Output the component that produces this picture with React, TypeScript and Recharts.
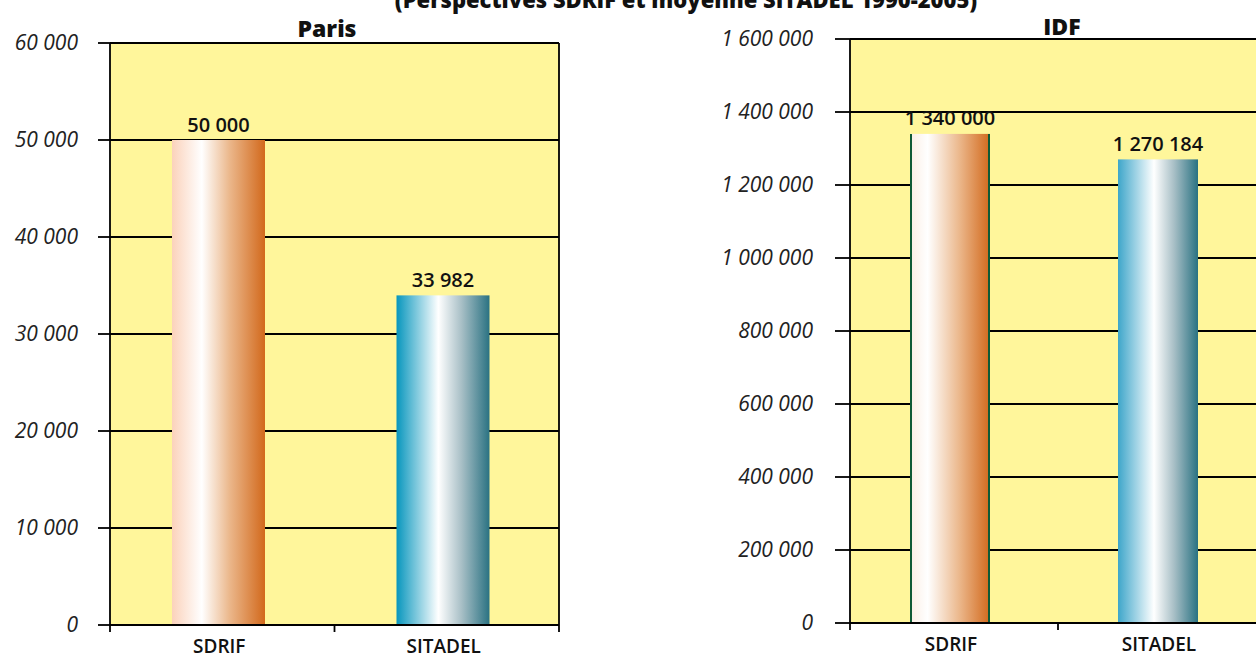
import React from 'react'
import {
  BarChart,
  Bar,
  XAxis,
  YAxis,
  CartesianGrid,
  Cell,
  LabelList,
} from 'recharts'

const categories = ['SDRIF', 'SITADEL']
const parisValues = [50000, 33982]
const idfValues = [1340000, 1270184]
const parisTicks = [0, 10000, 20000, 30000, 40000, 50000, 60000]
const idfTicks = [0, 200000, 400000, 600000, 800000, 1000000, 1200000, 1400000, 1600000]
const mainTitle = '(Perspectives SDRIF et moyenne SITADEL 1990-2005)'
const parisTitle = 'Paris'
const idfTitle = 'IDF'

const parisData = categories.map((c, i) => ({ category: c, value: parisValues[i] }))
const idfData = categories.map((c, i) => ({ category: c, value: idfValues[i] }))

const FONT = '"Open Sans", "Noto Sans", sans-serif'
const PLOT_BG = '#fff69b'

const fmt = (v: number) => String(v).replace(/\B(?=(\d{3})+(?!\d))/g, ' ')

// excel-style ticks between categories
function XTick(props: any) {
  const { x, y, payload, index, visibleTicksCount, width } = props
  const half = payload.offset ?? width / visibleTicksCount / 2
  const axisY = y - 7
  return (
    <g>
      <line x1={x - half} x2={x - half} y1={axisY} y2={axisY + 7} stroke="#000" strokeWidth={1.8} />
      {index === visibleTicksCount - 1 && (
        <line x1={x + half} x2={x + half} y1={axisY} y2={axisY + 7} stroke="#000" strokeWidth={1.8} />
      )}
      <text
        x={x - 3}
        y={axisY + 21}
        textAnchor="middle"
        dominantBaseline="central"
        fontFamily={FONT}
        fontSize={19}
        fontWeight={600}
        fill="#111"
      >
        {payload.value}
      </text>
    </g>
  )
}

// bars sit a little left of the category centre in the original
function ShiftedBar(props: any) {
  const { x, y, width, height, fill, payload, edged } = props
  const bx = x - 4
  const hasEdge = edged && payload && payload.category === 'SDRIF'
  return (
    <g>
      <rect x={bx} y={y} width={width} height={height} fill={fill} />
      {hasEdge && (
        <>
          <line x1={bx + 1} x2={bx + 1} y1={y} y2={y + height} stroke="#0f5a36" strokeWidth={2} />
          <line x1={bx + width - 1} x2={bx + width - 1} y1={y} y2={y + height} stroke="#0f5a36" strokeWidth={2} />
        </>
      )}
    </g>
  )
}

const rightBorder = ({ offset }: any) => [offset.left + offset.width]

function Gradients({ prefix }: { prefix: string }) {
  return (
    <defs>
      <linearGradient id={prefix + 'Sdrif'} x1="0" y1="0" x2="1" y2="0">
        <stop offset="0%" stopColor={prefix === 'p' ? '#fbd2bb' : '#fbeee4'} />
        <stop offset={prefix === 'p' ? '32%' : '22%'} stopColor="#ffffff" />
        <stop offset="62%" stopColor="#ebb78b" />
        <stop offset="100%" stopColor="#d2691c" />
      </linearGradient>
      <linearGradient id={prefix + 'Sitadel'} x1="0" y1="0" x2="1" y2="0">
        <stop offset="0%" stopColor={prefix === 'p' ? '#0796bd' : '#3ea6ca'} />
        <stop offset="45%" stopColor="#ffffff" />
        <stop offset="70%" stopColor="#a8bfc6" />
        <stop offset="100%" stopColor="#2a7282" />
      </linearGradient>
    </defs>
  )
}

const yTick = { fontSize: 21, fontStyle: 'italic', fill: '#222', fontFamily: FONT }
const valueLabel = { fontFamily: FONT, fontSize: 20, fontWeight: 600, fill: '#111' }
const lineStyle = { stroke: '#000', strokeWidth: 1.8 }
const labelPos = (dx: number) => (p: any) => {
  const { x, y, width, value } = p
  return (
    <text x={x + width / 2 + dx} y={y - 16} textAnchor="middle" dominantBaseline="central" style={valueLabel}>
      {fmt(value)}
    </text>
  )
}

export default function App() {
  return (
    <div style={{ position: 'fixed', left: 0, top: 0, width: 1256, height: 658, overflow: 'hidden', background: '#fff' }}>
      <div style={{ position: 'absolute', left: 0, top: 0 }}>
        <BarChart width={600} height={658} data={parisData} margin={{ top: 43, right: 41, left: 0, bottom: 0 }}>
          <Gradients prefix="p" />
          <CartesianGrid
            fill={PLOT_BG}
            stroke="#000"
            strokeWidth={1.8}
            verticalCoordinatesGenerator={rightBorder}
          />
          <XAxis
            dataKey="category"
            height={33}
            axisLine={lineStyle}
            tickLine={false}
            tickSize={7}
            tickMargin={0}
            tick={<XTick />}
          />
          <YAxis
            width={110}
            domain={[0, 60000]}
            ticks={parisTicks}
            tickFormatter={fmt}
            axisLine={lineStyle}
            tickLine={lineStyle}
            tickSize={12}
            tickMargin={20}
            tick={yTick}
          />
          <Bar dataKey="value" barSize={93} isAnimationActive={false} shape={<ShiftedBar />}>
            {parisData.map((d) => (
              <Cell key={d.category} fill={d.category === 'SDRIF' ? 'url(#pSdrif)' : 'url(#pSitadel)'} />
            ))}
            <LabelList dataKey="value" content={labelPos(-4)} />
          </Bar>
        </BarChart>
      </div>
      <div style={{ position: 'absolute', left: 700, top: 0 }}>
        <BarChart width={600} height={658} data={idfData} margin={{ top: 39, right: 34, left: 0, bottom: 0 }}>
          <Gradients prefix="i" />
          <CartesianGrid
            fill={PLOT_BG}
            stroke="#000"
            strokeWidth={1.8}
            verticalCoordinatesGenerator={rightBorder}
          />
          <XAxis
            dataKey="category"
            height={35}
            axisLine={lineStyle}
            tickLine={false}
            tickSize={7}
            tickMargin={0}
            tick={<XTick />}
          />
          <YAxis
            width={150}
            domain={[0, 1600000]}
            ticks={idfTicks}
            tickFormatter={fmt}
            axisLine={lineStyle}
            tickLine={lineStyle}
            tickSize={15}
            tickMargin={22}
            tick={yTick}
          />
          <Bar dataKey="value" barSize={80} isAnimationActive={false} shape={<ShiftedBar edged />}>
            {idfData.map((d) => (
              <Cell key={d.category} fill={d.category === 'SDRIF' ? 'url(#iSdrif)' : 'url(#iSitadel)'} />
            ))}
            <LabelList dataKey="value" content={labelPos(-4)} />
          </Bar>
        </BarChart>
      </div>
      <svg width={1256} height={658} style={{ position: 'absolute', left: 0, top: 0, pointerEvents: 'none' }}>
        <text x={686} y={8} textAnchor="middle" fontFamily={FONT} fontSize={22} fontWeight={800} fill="#111">
          {mainTitle}
        </text>
        <text x={327} y={37} textAnchor="middle" fontFamily={FONT} fontSize={23} fontWeight={800} fill="#111">
          {parisTitle}
        </text>
        <text x={1062} y={35} textAnchor="middle" fontFamily={FONT} fontSize={23} fontWeight={800} fill="#111">
          {idfTitle}
        </text>
      </svg>
    </div>
  )
}
